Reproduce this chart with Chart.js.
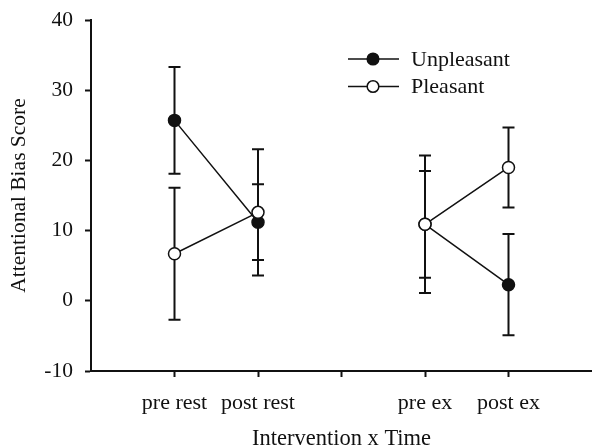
<!DOCTYPE html>
<html>
<head>
<meta charset="utf-8">
<script src="https://cdn.jsdelivr.net/npm/chart.js@4/dist/chart.umd.min.js"></script>
<style>
  html, body { margin: 0; padding: 0; background: #fff; }
  #wrap { width: 592px; height: 447px; }
</style>
</head>
<body>
<div id="wrap"><canvas id="c" width="592" height="447"></canvas></div>
<script>
const categories = ['pre rest', 'post rest', '', 'pre ex', 'post ex'];
const seriesNames = ['Unpleasant', 'Pleasant'];
const unpleasantMean = [25.7, 11.2, null, 10.9, 2.3];
const unpleasantErr  = [7.6, 5.4, null, 7.6, 7.2];
const pleasantMean   = [6.7, 12.6, null, 10.9, 19.0];
const pleasantErr    = [9.4, 9.0, null, 9.8, 5.7];
const yTicks = [-10, 0, 10, 20, 30, 40];
const xTitle = 'Intervention x Time';
const yTitle = 'Attentional Bias Score';

const FONT = 'Liberation Serif, Times New Roman, serif';
const INK = '#111';

function toPoints(means) {
  return means.map((v, i) => ({ x: i + 1, y: v }));
}

const errorBarPlugin = {
  id: 'errorBars',
  beforeDatasetsDraw(chart) {
    const ctx = chart.ctx;
    const xs = chart.scales.x, ys = chart.scales.y;
    const errs = [unpleasantErr, pleasantErr];
    ctx.save();
    ctx.strokeStyle = INK;
    ctx.lineWidth = 2;
    chart.data.datasets.forEach((ds, di) => {
      ds.data.forEach((p, i) => {
        if (p.y === null || errs[di][i] === null) return;
        const px = xs.getPixelForValue(p.x);
        const t = ys.getPixelForValue(p.y + errs[di][i]);
        const b = ys.getPixelForValue(p.y - errs[di][i]);
        ctx.beginPath();
        ctx.moveTo(px, t); ctx.lineTo(px, b);
        ctx.moveTo(px - 6, t); ctx.lineTo(px + 6, t);
        ctx.moveTo(px - 6, b); ctx.lineTo(px + 6, b);
        ctx.stroke();
      });
    });
    ctx.restore();
  }
};

const legendPlugin = {
  id: 'customLegend',
  afterDraw(chart) {
    const ctx = chart.ctx;
    const fills = [INK, '#fff'];
    ctx.save();
    ctx.font = '22px ' + FONT;
    ctx.textBaseline = 'middle';
    ctx.fillStyle = INK;
    seriesNames.forEach((name, i) => {
      const y = 59 + i * 27.5;
      ctx.strokeStyle = INK;
      ctx.lineWidth = 1.5;
      ctx.beginPath();
      ctx.moveTo(348, y); ctx.lineTo(399, y);
      ctx.stroke();
      ctx.beginPath();
      ctx.arc(373, y, 5.8, 0, Math.PI * 2);
      ctx.fillStyle = fills[i];
      ctx.fill();
      ctx.stroke();
      ctx.fillStyle = INK;
      ctx.fillText(name, 411, y + 1);
    });
    ctx.restore();
  }
};

new Chart(document.getElementById('c'), {
  type: 'line',
  data: {
    datasets: [
      {
        label: seriesNames[0],
        data: toPoints(unpleasantMean),
        order: 1,
        borderColor: INK,
        borderWidth: 1.5,
        pointRadius: 6,
        pointBackgroundColor: INK,
        pointBorderColor: INK,
        pointBorderWidth: 1.5,
        spanGaps: false,
        tension: 0
      },
      {
        label: seriesNames[1],
        data: toPoints(pleasantMean),
        order: 0,
        borderColor: INK,
        borderWidth: 1.5,
        pointRadius: 6,
        pointBackgroundColor: '#fff',
        pointBorderColor: INK,
        pointBorderWidth: 1.5,
        spanGaps: false,
        tension: 0
      }
    ]
  },
  options: {
    responsive: false,
    animation: false,
    devicePixelRatio: 1,
    layout: { autoPadding: false, padding: { top: 20, right: 0, left: 0, bottom: 0 } },
    plugins: {
      legend: { display: false },
      tooltip: { enabled: false }
    },
    scales: {
      x: {
        type: 'linear',
        min: 0,
        max: 6,
        afterBuildTicks(scale) {
          scale.ticks = categories.map((c, i) => ({ value: i + 1 }));
        },
        afterFit(scale) {
          scale.height = 76;
          scale.paddingLeft = 0;
          scale.paddingRight = 0;
        },
        ticks: {
          autoSkip: false,
          maxRotation: 0,
          padding: 13,
          color: INK,
          font: { family: FONT, size: 22 },
          callback: (v) => categories[v - 1] ?? ''
        },
        grid: {
          display: true,
          drawOnChartArea: false,
          drawTicks: true,
          tickLength: 6,
          tickWidth: 2,
          tickColor: INK
        },
        border: { display: true, color: INK, width: 2 },
        title: {
          display: true,
          text: xTitle,
          color: INK,
          font: { family: FONT, size: 22.5, lineHeight: 1 },
          padding: { top: 10, bottom: -3 }
        }
      },
      y: {
        min: -10,
        max: 40,
        afterBuildTicks(scale) {
          scale.ticks = yTicks.map(v => ({ value: v }));
        },
        afterFit(scale) {
          scale.width = 91;
          scale.paddingTop = 0;
          scale.paddingBottom = 0;
        },
        ticks: {
          padding: 12,
          color: INK,
          font: { family: FONT, size: 21.5 }
        },
        grid: {
          display: true,
          drawOnChartArea: false,
          drawTicks: true,
          tickLength: 6,
          tickWidth: 2,
          tickColor: INK
        },
        border: { display: true, color: INK, width: 2 },
        title: {
          display: true,
          text: yTitle,
          color: INK,
          font: { family: FONT, size: 21.5 },
          padding: { top: 6, bottom: 0 }
        }
      }
    }
  },
  plugins: [errorBarPlugin, legendPlugin]
});
</script>
</body>
</html>
